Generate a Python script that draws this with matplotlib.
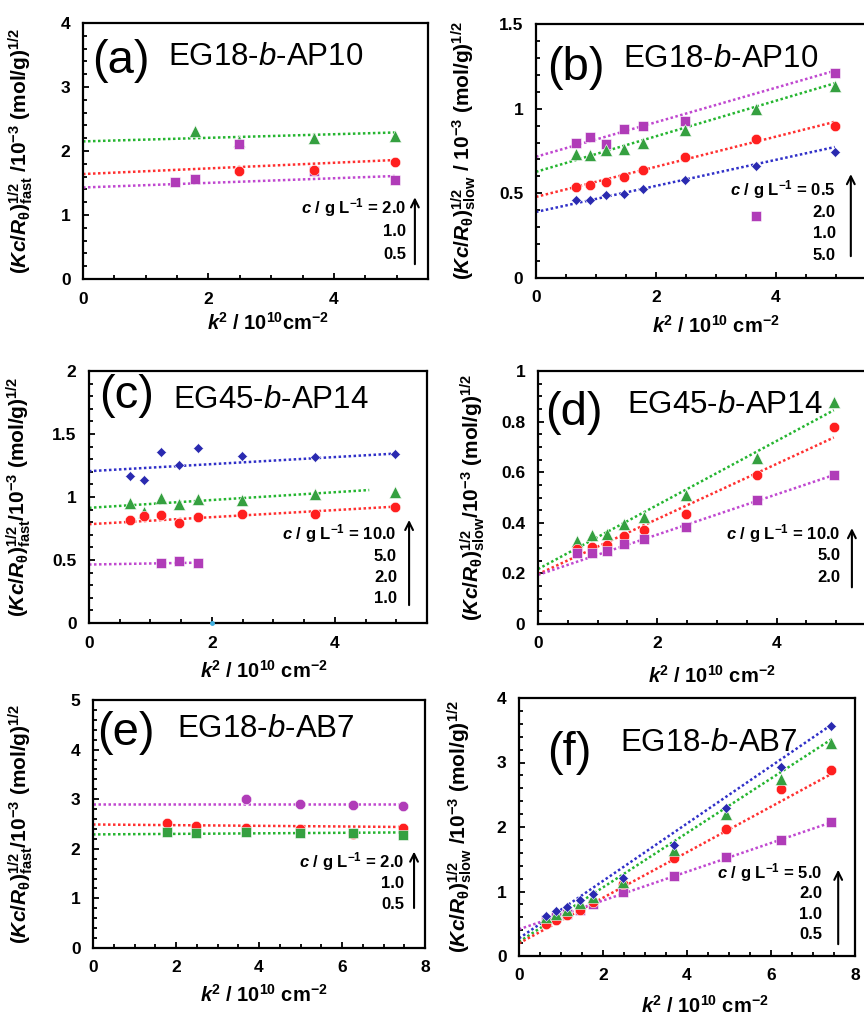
import numpy as np
import matplotlib
matplotlib.use("Agg")
import matplotlib.pyplot as plt
from matplotlib.ticker import MultipleLocator, FuncFormatter

plt.rcParams['font.family'] = ['Liberation Sans', 'DejaVu Sans']
plt.rcParams['mathtext.fontset'] = 'custom'
plt.rcParams['mathtext.rm'] = 'Liberation Sans'
plt.rcParams['mathtext.it'] = 'Liberation Sans:italic'
plt.rcParams['mathtext.bf'] = 'Liberation Sans:bold'
plt.rcParams['mathtext.bfit'] = 'Liberation Sans:italic:bold'

# ---- data (k^2 in 1e10 cm^-2) ----
# (a) EG18-b-AP10 fast
a_k2_tri = [1.78, 2.48, 3.68, 4.97]
a_tri = [2.31, 2.15, 2.21, 2.23]
a_k2_circ = [2.48, 3.68, 4.97]
a_circ = [1.69, 1.71, 1.83]
a_k2_sq = [1.46, 1.78, 2.48, 3.68, 4.97]
a_sq = [1.51, 1.57, 2.11, 1.68, 1.54]

# (b) EG18-b-AP10 slow
b_k2 = [0.66, 0.90, 1.16, 1.46, 1.78, 2.49, 3.67, 4.98]
b_sq = [0.795, 0.83, 0.79, 0.878, 0.90, 0.93, 0.367, 1.21]
b_tri = [0.735, 0.726, 0.755, 0.76, 0.795, 0.874, 1.00, 1.134]
b_circ = [0.538, 0.552, 0.568, 0.598, 0.637, 0.716, 0.818, 0.897]
b_dia = [0.46, 0.463, 0.493, 0.499, 0.525, 0.578, 0.661, 0.742]

# (c) EG45-b-AP14 fast
c_k2 = [0.66, 0.89, 1.17, 1.47, 1.78, 2.49, 3.68, 4.98]
c_dia = [1.17, 1.134, 1.354, 1.253, 1.385, 1.325, 1.32, 1.338]
c_tri = [0.954, 0.882, 0.996, 0.948, 0.988, 0.98, 1.022, 1.041]
c_circ = [0.816, 0.85, 0.856, 0.795, 0.842, 0.869, 0.864, 0.922]
c_k2_sq = [1.17, 1.47, 1.78]
c_sq = [0.479, 0.49, 0.479]

# (d) EG45-b-AP14 slow
d_k2 = [0.66, 0.90, 1.16, 1.45, 1.77, 2.48, 3.68, 4.96]
d_tri = [0.33, 0.352, 0.355, 0.396, 0.424, 0.51, 0.658, 0.878]
d_circ = [0.297, 0.304, 0.314, 0.348, 0.37, 0.436, 0.59, 0.779]
d_sq = [0.28, 0.28, 0.29, 0.317, 0.335, 0.382, 0.49, 0.589]

# (e) EG18-b-AB7 fast
e_k2 = [1.78, 2.49, 3.69, 4.98, 6.26, 7.46]
e_k2_mag = [3.69, 4.98, 6.26, 7.46]
e_mag = [3.0, 2.91, 2.88, 2.87]
e_red = [2.53, 2.46, 2.42, 2.40, 2.29, 2.42]
e_grn = [2.34, 2.32, 2.34, 2.31, 2.31, 2.27]

# (f) EG18-b-AB7 slow
f_k2 = [0.65, 0.88, 1.14, 1.45, 1.77, 2.48, 3.68, 4.94, 6.25, 7.44]
f_dia = [0.626, 0.70, 0.766, 0.869, 0.968, 1.216, 1.723, 2.292, 2.929, 3.56]
f_tri = [0.60, 0.647, 0.714, 0.818, 0.921, 1.154, 1.646, 2.20, 2.74, 3.30]
f_circ = [0.49, 0.56, 0.636, 0.714, 0.843, 1.11, 1.516, 1.97, 2.587, 2.877]
f_sq = [0.56, 0.61, 0.647, 0.714, 0.807, 0.988, 1.247, 1.542, 1.80, 2.075]

# fitted lines: (intercept, slope, x_end)
a_fits = {'g': (2.15, 0.028, 4.97), 'r': (1.64, 0.044, 4.97), 'm': (1.43, 0.036, 4.97)}
b_fits = {'m': (0.716, 0.102, 4.98), 'g': (0.627, 0.105, 4.98),
          'r': (0.479, 0.089, 4.98), 'b': (0.39, 0.077, 4.98)}
c_fits = {'b': (1.205, 0.028, 4.98), 'g': (0.914, 0.031, 4.56),
          'r': (0.784, 0.028, 4.98), 'm': (0.464, 0.0084, 1.78)}
d_fits = {'g': (0.217, 0.1266, 4.96), 'r': (0.197, 0.1089, 4.96), 'm': (0.194, 0.0796, 4.96)}
e_fits = {'m': (2.91, 0.0, 7.46), 'r': (2.49, -0.0067, 7.46), 'g': (2.29, 0.0054, 7.46)}
f_fits = {'b': (0.274, 0.445, 7.44), 'g': (0.22, 0.422, 7.44),
          'r': (0.197, 0.353, 7.44), 'm': (0.414, 0.223, 7.44)}

a_conc = ['2.0', '1.0', '0.5']
b_conc = ['0.5', '2.0', '1.0', '5.0']
c_conc = ['10.0', '5.0', '2.0', '1.0']
d_conc = ['10.0', '5.0', '2.0']
e_conc = ['2.0', '1.0', '0.5']
f_conc = ['5.0', '2.0', '1.0', '0.5']

MK = {'g': '#35a040', 'r': '#ff1f1f', 'm': '#b03cb8', 'b': '#2a2ab0'}
LN = {'g': '#25b530', 'r': '#ff3030', 'm': '#c048d0', 'b': '#3030c8'}

W, H = 864, 1018
fig = plt.figure(figsize=(W / 100, H / 100), dpi=100)


def rect(l, r, t, b):
    return [l / W, 1 - b / H, (r - l) / W, (b - t) / H]


def ylab(kind, sep1, sep2):
    return (r'($\mathbfit{Kc}$/$\mathbfit{R}_{\mathbf{θ}}$)$^{\mathbf{1/2}}_{\mathbf{' + kind + '}}$'
            + sep1 + '/' + sep2 + r'10$^{\mathbf{-3}}$' + ' ' + r'(mol/g)$^{\mathbf{1/2}}$')


def xlab(space=' '):
    return r'$\mathbfit{k}^{\mathbf{2}}$ / 10$^{\mathbf{10}}$' + space + r'cm$^{\mathbf{-2}}$'


def setup(ax, xmax, xmaj, xmin, ymax, ymaj, ymin):
    ax.set_xlim(0, xmax)
    ax.set_ylim(0, ymax)
    ax.xaxis.set_major_locator(MultipleLocator(xmaj))
    ax.xaxis.set_minor_locator(MultipleLocator(xmin))
    ax.yaxis.set_major_locator(MultipleLocator(ymaj))
    ax.yaxis.set_minor_locator(MultipleLocator(ymin))
    fmt = FuncFormatter(lambda v, p: f'{v:g}')
    ax.xaxis.set_major_formatter(fmt)
    ax.yaxis.set_major_formatter(fmt)
    ax.tick_params(which='both', direction='in', width=1.3, labelsize=12.5, pad=9)
    ax.tick_params(which='major', length=4.5)
    ax.tick_params(which='minor', length=3)
    for t in ax.get_xticklabels() + ax.get_yticklabels():
        t.set_fontweight('bold')
    for s in ax.spines.values():
        s.set_linewidth(1.6)


def fits(ax, fd):
    for c, (b0, sl, xe) in fd.items():
        xx = np.array([0, xe])
        ax.plot(xx, b0 + sl * xx, color=LN[c], lw=1.8, ls=(0, (1, 1)), zorder=2)


def pts(ax, x, y, c, m, ms):
    ax.plot(x, y, ls='none', marker=m, color=MK[c], ms=ms, mec='white', mew=0.4, zorder=3)


def labels(ax, tag, name, tagpos, namepos):
    ax.text(*tagpos, tag, transform=ax.transAxes, fontsize=34, va='baseline', ha='left')
    ax.text(*namepos, name, transform=ax.transAxes, fontsize=22.5, va='baseline', ha='left')


def conc(ax, vals, xr, y0, dy, xarr, ya0, ya1):
    for i, v in enumerate(vals):
        s = (r'$\mathbfit{c}$ / g L$^{\mathbf{-1}}$ = ' + v) if i == 0 else v
        ax.text(xr, y0 - i * dy, s, transform=ax.transAxes, ha='right', va='baseline',
                fontsize=12, fontweight='bold')
    ax.annotate('', xy=(xarr, ya1), xytext=(xarr, ya0), xycoords='axes fraction',
                arrowprops=dict(arrowstyle='->', lw=1.5, color='black',
                                mutation_scale=14))


YL = 15
XL = 14.5

# (a)
ax = fig.add_axes(rect(83, 428, 23, 279))
setup(ax, 5.5, 2, 0.5, 4, 1, 0.2)
fits(ax, a_fits)
pts(ax, a_k2_tri, a_tri, 'g', '^', 8)
pts(ax, a_k2_sq, a_sq, 'm', 's', 7.2)
pts(ax, a_k2_circ, a_circ, 'r', 'o', 7.5)
labels(ax, '(a)', r'EG18-$\mathit{b}$-AP10', (0.026, 0.805), (0.246, 0.836))
conc(ax, a_conc, 0.936, 0.258, 0.09, 0.962, 0.047, 0.33)
ax.set_ylabel(ylab('fast', ' ', ''), fontsize=YL, fontweight='bold')
ax.yaxis.set_label_coords(-0.139, 0.5)
ax.set_xlabel(xlab(''), fontsize=XL, fontweight='bold')
ax.xaxis.set_label_coords(0.536, -0.129)

# (b)
ax = fig.add_axes(rect(536, 866, 24, 278))
setup(ax, 5.5, 2, 0.5, 1.5, 0.5, 0.1)
fits(ax, b_fits)
pts(ax, b_k2, b_sq, 'm', 's', 7.2)
pts(ax, b_k2, b_tri, 'g', '^', 8)
pts(ax, b_k2, b_circ, 'r', 'o', 7.5)
pts(ax, b_k2, b_dia, 'b', 'D', 5.2)
labels(ax, '(b)', r'EG18-$\mathit{b}$-AP10', (0.034, 0.78), (0.264, 0.83))
conc(ax, b_conc, 0.908, 0.327, 0.085, 0.954, 0.075, 0.42)
ax.set_ylabel(ylab('slow', ' ', ' '), fontsize=YL, fontweight='bold')
ax.yaxis.set_label_coords(-0.175, 0.5)
ax.set_xlabel(xlab(), fontsize=XL, fontweight='bold')
ax.xaxis.set_label_coords(0.546, -0.146)

# (c)
ax = fig.add_axes(rect(89, 427, 371, 623))
setup(ax, 5.5, 2, 0.5, 2, 0.5, 0.1)
fits(ax, c_fits)
pts(ax, c_k2, c_dia, 'b', 'D', 5.2)
pts(ax, c_k2, c_tri, 'g', '^', 8)
pts(ax, c_k2, c_circ, 'r', 'o', 7.5)
pts(ax, c_k2_sq, c_sq, 'm', 's', 7.2)
ax.plot([2.0], [0.0], ls='none', marker='o', ms=2.5, color='#40b0e0', clip_on=False, zorder=4)
labels(ax, '(c)', r'EG45-$\mathit{b}$-AP14', (0.03, 0.853), (0.249, 0.853))
conc(ax, c_conc, 0.911, 0.33, 0.083, 0.947, 0.06, 0.42)
ax.set_ylabel(ylab('fast', '', ''), fontsize=YL, fontweight='bold')
ax.yaxis.set_label_coords(-0.166, 0.5)
ax.set_xlabel(xlab(), fontsize=XL, fontweight='bold')
ax.xaxis.set_label_coords(0.518, -0.147)

# (d)
ax = fig.add_axes(rect(538, 866, 371, 624))
setup(ax, 5.5, 2, 0.5, 1, 0.2, 0.05)
fits(ax, d_fits)
pts(ax, d_k2, d_tri, 'g', '^', 8)
pts(ax, d_k2, d_circ, 'r', 'o', 7.5)
pts(ax, d_k2, d_sq, 'm', 's', 7.2)
labels(ax, '(d)', r'EG45-$\mathit{b}$-AP14', (0.022, 0.787), (0.272, 0.834))
conc(ax, d_conc, 0.923, 0.336, 0.085, 0.957, 0.134, 0.39)
ax.set_ylabel(ylab('slow', '', ''), fontsize=YL, fontweight='bold')
ax.yaxis.set_label_coords(-0.157, 0.5)
ax.set_xlabel(xlab(), fontsize=XL, fontweight='bold')
ax.xaxis.set_label_coords(0.53, -0.162)

# (e)
ax = fig.add_axes(rect(93, 425, 700, 948))
setup(ax, 8, 2, 0.5, 5, 1, 0.2)
fits(ax, e_fits)
pts(ax, e_k2_mag, e_mag, 'm', 'o', 7.5)
pts(ax, e_k2, e_red, 'r', 'o', 7.5)
pts(ax, e_k2, e_grn, 'g', 's', 7.2)
labels(ax, '(e)', r'EG18-$\mathit{b}$-AB7', (0.012, 0.82), (0.253, 0.85))
conc(ax, e_conc, 0.937, 0.327, 0.085, 0.967, 0.15, 0.40)
ax.set_ylabel(ylab('fast', '', ''), fontsize=YL, fontweight='bold')
ax.yaxis.set_label_coords(-0.175, 0.5)
ax.set_xlabel(xlab(), fontsize=XL, fontweight='bold')
ax.xaxis.set_label_coords(0.515, -0.145)

# (f)
ax = fig.add_axes(rect(519, 855, 698, 956))
setup(ax, 8, 2, 0.5, 4, 1, 0.2)
fits(ax, f_fits)
pts(ax, f_k2, f_sq, 'm', 's', 7.2)
pts(ax, f_k2, f_circ, 'r', 'o', 7.5)
pts(ax, f_k2, f_tri, 'g', '^', 8)
pts(ax, f_k2, f_dia, 'b', 'D', 5.2)
labels(ax, '(f)', r'EG18-$\mathit{b}$-AB7', (0.083, 0.74), (0.30, 0.795))
conc(ax, f_conc, 0.902, 0.302, 0.079, 0.95, 0.035, 0.345)
ax.set_ylabel(ylab('slow', ' ', ''), fontsize=YL, fontweight='bold')
ax.yaxis.set_label_coords(-0.134, 0.5)
ax.set_xlabel(xlab(), fontsize=XL, fontweight='bold')
ax.xaxis.set_label_coords(0.554, -0.15)

fig.savefig('out.png', dpi=100)
